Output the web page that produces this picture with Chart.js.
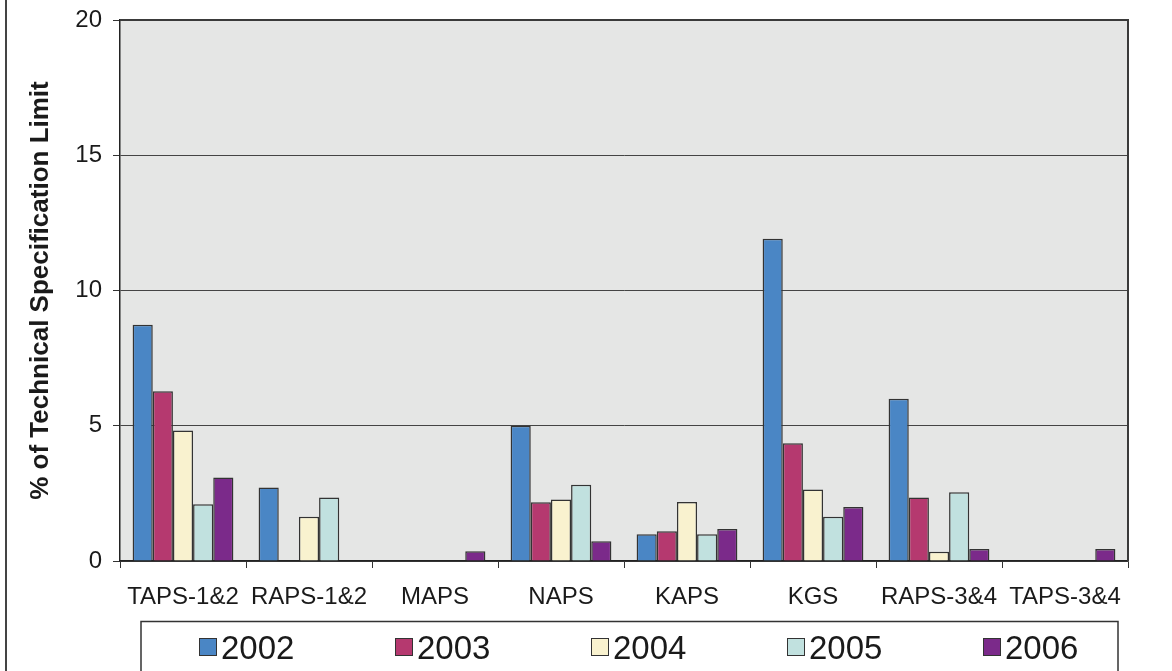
<!DOCTYPE html>
<html>
<head>
<meta charset="utf-8">
<title>Technical Specification Limit</title>
<script src="https://cdn.jsdelivr.net/npm/chart.js@4/dist/chart.umd.min.js"></script>
<style>
  html, body { margin: 0; padding: 0; background: #fff; }
  #wrap { width: 1172px; height: 671px; position: relative; }
</style>
</head>
<body>
<div id="wrap"><canvas id="specChart" width="1172" height="671"></canvas></div>
<script>
// stations on the x axis
const stations = ['TAPS-1&2', 'RAPS-1&2', 'MAPS', 'NAPS', 'KAPS', 'KGS', 'RAPS-3&4', 'TAPS-3&4'];

// % of technical specification limit, one array per year
const y2002 = [8.73, 2.72, 0, 5.0, 0.99, 11.91, 6.0, 0];
const y2003 = [6.28, 0, 0, 2.17, 1.10, 4.35, 2.35, 0];
const y2004 = [4.82, 1.64, 0, 2.27, 2.18, 2.64, 0.34, 0];
const y2005 = [2.10, 2.35, 0, 2.82, 0.99, 1.64, 2.54, 0];
const y2006 = [3.09, 0, 0.36, 0.73, 1.18, 2.0, 0.44, 0.44];

const years = ['2002', '2003', '2004', '2005', '2006'];
const yearColors = ['#4a86c5', '#b5396f', '#f9f2cf', '#c1e1df', '#7b2a8a'];
const yTicks = [0, 5, 10, 15, 20];

const FONT = "'Liberation Sans', Arial, sans-serif";

// grey plot background plus the dark frame on top/right
const plotFrame = {
  id: 'plotFrame',
  beforeDraw(chart) {
    const { ctx, chartArea: a } = chart;
    ctx.save();
    ctx.fillStyle = '#e5e6e5';
    ctx.fillRect(a.left, a.top, a.right - a.left, a.bottom - a.top);
    ctx.restore();
  },
  afterDraw(chart) {
    const { ctx, chartArea: a } = chart;
    ctx.save();
    ctx.strokeStyle = '#3a3a3a';
    ctx.lineWidth = 2;
    ctx.beginPath();
    ctx.moveTo(a.left, a.top);
    ctx.lineTo(a.right, a.top);
    ctx.lineTo(a.right, a.bottom);
    ctx.stroke();
    // outer frame edge on the left
    ctx.strokeStyle = '#444';
    ctx.beginPath();
    ctx.moveTo(6, 0);
    ctx.lineTo(6, chart.height);
    ctx.stroke();
    ctx.restore();
  }
};

// boxed legend under the axis labels
const boxLegend = {
  id: 'boxLegend',
  afterDraw(chart) {
    const { ctx } = chart;
    ctx.save();
    ctx.strokeStyle = '#333';
    ctx.lineWidth = 1.5;
    ctx.strokeRect(141, 621.5, 977, 80);
    ctx.font = '33px ' + FONT;
    ctx.textBaseline = 'alphabetic';
    ctx.textAlign = 'left';
    chart.data.datasets.forEach((ds, i) => {
      const x = 199 + i * 196;
      ctx.fillStyle = ds.backgroundColor;
      ctx.fillRect(x, 638, 18, 18);
      ctx.strokeStyle = '#333';
      ctx.lineWidth = 1;
      ctx.strokeRect(x + 0.5, 638.5, 17, 17);
      ctx.fillStyle = '#1a1a1a';
      ctx.fillText(ds.label, x + 22, 659);
    });
    ctx.restore();
  }
};

const seriesData = [y2002, y2003, y2004, y2005, y2006];

new Chart(document.getElementById('specChart'), {
  type: 'bar',
  data: {
    labels: stations,
    datasets: years.map((yr, i) => ({
      label: yr,
      data: seriesData[i],
      backgroundColor: yearColors[i],
      borderColor: '#333',
      borderWidth: 1.5,
      barPercentage: 1.0,
      categoryPercentage: 0.8
    }))
  },
  options: {
    responsive: false,
    animation: false,
    layout: { padding: { top: 20, right: 44, bottom: 0, left: 0 } },
    plugins: {
      legend: { display: false },
      tooltip: { enabled: false }
    },
    scales: {
      x: {
        afterFit(scale) {
          scale.height = 110;
          scale.paddingLeft = 0;
          scale.paddingRight = 0;
        },
        grid: {
          offset: true,
          drawOnChartArea: false,
          drawTicks: true,
          tickLength: 7,
          tickColor: '#333'
        },
        border: { display: true, color: '#222', width: 1.5 },
        ticks: {
          color: '#1a1a1a',
          padding: 15,
          maxRotation: 0,
          autoSkip: false,
          font: { family: FONT, size: 24 }
        }
      },
      y: {
        min: 0,
        max: 20,
        afterFit(scale) {
          scale.width = 120;
          scale.paddingTop = 0;
          scale.paddingBottom = 0;
        },
        afterBuildTicks(scale) { scale.ticks = yTicks.map(v => ({ value: v })); },
        grid: {
          color: '#444',
          lineWidth: 1,
          drawTicks: true,
          tickLength: 7,
          tickColor: '#333'
        },
        border: { display: true, color: '#222', width: 1.5 },
        ticks: {
          color: '#1a1a1a',
          padding: 11,
          font: { family: FONT, size: 24 }
        },
        title: {
          display: true,
          text: '% of Technical Specification Limit',
          color: '#1a1a1a',
          padding: { top: 25, bottom: 0 },
          font: { family: FONT, size: 26, weight: 'bold' }
        }
      }
    }
  },
  plugins: [plotFrame, boxLegend]
});
</script>
</body>
</html>
